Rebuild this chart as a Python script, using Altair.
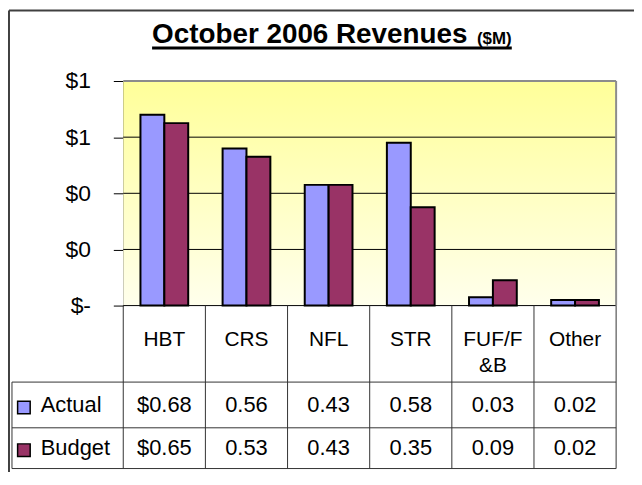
import altair as alt
import pandas as pd

# ---- data ----
categories = ["HBT", "CRS", "NFL", "STR", "FUF/F&B", "Other"]
header_labels = ["HBT", "CRS", "NFL", "STR", "FUF/F\n&B", "Other"]
series_names = ["Actual", "Budget"]
actual = [0.68, 0.56, 0.43, 0.58, 0.03, 0.02]
budget = [0.65, 0.53, 0.43, 0.35, 0.09, 0.02]
y_ticks = [0, 0.2, 0.4, 0.6, 0.8]
grid_values = [0, 0.2, 0.4, 0.6]
title_main = "October 2006 Revenues"
title_unit = "($M)"
colors = ["#9999FF", "#993366"]

rows = []
for s, vals in zip(series_names, [actual, budget]):
    for i, (c, v) in enumerate(zip(categories, vals)):
        rows.append({"cat": c, "series": s, "value": v,
                     "label": (f"${v:.2f}" if i == 0 else f"{v:.2f}")})
df = pd.DataFrame(rows)
cat_df = pd.DataFrame({"cat": categories, "header": header_labels})
grid_df = pd.DataFrame({"value": grid_values})
series_df = pd.DataFrame({"series": series_names})
title_df = pd.DataFrame({"main": [title_main], "unit": [title_unit]})

FONT = "Liberation Sans"
x_scale = alt.Scale(type="band", domain=categories, paddingInner=0, paddingOuter=0)
y_scale = alt.Scale(domain=[0, 0.8], nice=False, zero=True)
color_scale = alt.Scale(domain=series_names, range=colors)


def X(**kw):
    return alt.X("cat:N", scale=x_scale, axis=None, **kw)


# plot background (gradient)
bg = alt.Chart(title_df).mark_rect(
    color=alt.Gradient(
        gradient="linear",
        stops=[alt.GradientStop(color="#FFFF99", offset=0),
               alt.GradientStop(color="#FFFFEC", offset=1)],
        x1=0, x2=0, y1=0, y2=1,
    )
).encode(x=alt.value(0), x2=alt.value("width"), y=alt.value(0), y2=alt.value("height"))

# gridlines + y axis
grid = alt.Chart(grid_df).mark_rule(color="black", strokeWidth=1).encode(
    y=alt.Y("value:Q", scale=y_scale, title=None,
            axis=alt.Axis(values=y_ticks, grid=False, domainColor="black", tickColor="black",
                          tickSize=10, labelFontSize=23, labelFont=FONT, labelColor="black",
                          labelPadding=23,
                          labelExpr="datum.value == 0 ? '$-' : '$' + format(datum.value, '.0f')")),
    x=alt.value(0), x2=alt.value("width"),
)

bars = alt.Chart(df).mark_bar(stroke="black", strokeWidth=2).encode(
    x=X(),
    xOffset=alt.XOffset("series:N", sort=series_names,
                        scale=alt.Scale(paddingInner=0, paddingOuter=0.72)),
    y=alt.Y("value:Q", scale=y_scale),
    color=alt.Color("series:N", scale=color_scale, legend=None),
)

border_top = alt.Chart(title_df).mark_rule(color="#8C8C8C", strokeWidth=2).encode(
    x=alt.value(0), x2=alt.value("width"), y=alt.value(0))
border_right = alt.Chart(title_df).mark_rule(color="#8C8C8C", strokeWidth=2).encode(
    x=alt.value("width"), y=alt.value(0), y2=alt.value("height"))

# ---- data table ----
LINE = "#333333"
col_lines = alt.Chart(cat_df).mark_rule(color=LINE, strokeWidth=1).encode(
    x=X(bandPosition=0), y=alt.value(226), y2=alt.value(390))
col_right = alt.Chart(title_df).mark_rule(color=LINE, strokeWidth=1).encode(
    x=alt.value("width"), y=alt.value(226), y2=alt.value(390))
row_left = alt.Chart(title_df).mark_rule(color=LINE, strokeWidth=1).encode(
    x=alt.value(-112), y=alt.value(303), y2=alt.value(390))
row_lines = [
    alt.Chart(title_df).mark_rule(color=LINE, strokeWidth=1).encode(
        x=alt.value(-112), x2=alt.value("width"), y=alt.value(yy))
    for yy in (303, 349, 390)
]

header = alt.Chart(cat_df).mark_text(
    font=FONT, fontSize=21, lineBreak="\n", lineHeight=26, baseline="middle", color="black"
).encode(x=X(), y=alt.value(261), text="header:N")

row_y = {"Actual": 326.5, "Budget": 369.5}
table_layers = []
for s in series_names:
    yy = row_y[s]
    table_layers.append(
        alt.Chart(df).transform_filter(f"datum.series == '{s}'").mark_text(
            font=FONT, fontSize=22, baseline="middle", color="black"
        ).encode(x=X(), y=alt.value(yy), text="label:N")
    )
    table_layers.append(
        alt.Chart(series_df).transform_filter(f"datum.series == '{s}'").mark_square(
            size=160, filled=True, stroke="black", strokeWidth=1.5, opacity=1
        ).encode(x=alt.value(-100), y=alt.value(yy + 2),
                 color=alt.Color("series:N", scale=color_scale, legend=None))
    )
    table_layers.append(
        alt.Chart(series_df).transform_filter(f"datum.series == '{s}'").mark_text(
            font=FONT, fontSize=22, baseline="middle", align="left", color="black"
        ).encode(x=alt.value(-83), y=alt.value(yy), text="series:N")
    )

# ---- title ----
t_main = alt.Chart(title_df).mark_text(
    font=FONT, fontSize=28, fontWeight="bold", align="left", baseline="alphabetic", color="black"
).encode(x=alt.value(29), y=alt.value(-38), text="main:N")
t_unit = alt.Chart(title_df).mark_text(
    font=FONT, fontSize=17, fontWeight="bold", align="left", baseline="alphabetic", color="black"
).encode(x=alt.value(356), y=alt.value(-37), text="unit:N")
underline = alt.Chart(title_df).mark_rule(color="black", strokeWidth=3).encode(
    x=alt.value(29), x2=alt.value(391), y=alt.value(-33.3))

# ---- outer chart border (left/top) ----
outer_left = alt.Chart(title_df).mark_rule(color="#404040", strokeWidth=2).encode(
    x=alt.value(-115), y=alt.value(-71), y2=alt.value(420))
outer_top = alt.Chart(title_df).mark_rule(color="#404040", strokeWidth=2).encode(
    x=alt.value(-115), x2=alt.value(560), y=alt.value(-71))

chart = alt.layer(
    bg, grid, bars, border_top, border_right,
    col_lines, col_right, row_left, *row_lines, header, *table_layers,
    t_main, t_unit, underline, outer_left, outer_top,
).properties(
    width=496, height=226,
    autosize=alt.AutoSizeParams(type="none"),
    padding={"left": 116, "top": 72, "right": 18, "bottom": 166},
).configure(font=FONT).configure_view(strokeWidth=0)

chart.save("out.html", embed_options={"renderer": "svg", "actions": False})
